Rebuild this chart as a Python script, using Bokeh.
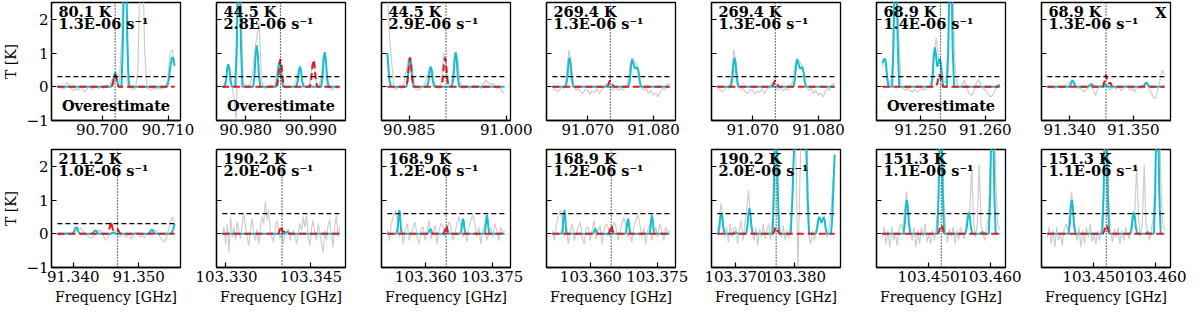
import numpy as np
from bokeh.plotting import figure
from bokeh.layouts import gridplot
from bokeh.models import Range1d, FixedTicker, PrintfTickFormatter, CustomJSTickFormatter, Label, Span
from bokeh.embed import file_html
from bokeh.resources import INLINE

# ---------------- data (frequencies in MHz, temperatures in K) ----------------
# Panel 1
p1_obs_start, p1_obs_end = 90693.2, 90711.0
p1_obs = [0.0, 0.03, -0.08, -0.05, 0.12, 0.08, -0.05, -0.12, -0.05, -0.1, 0.02, -0.08, -0.15, -0.05,
          0.03, -0.1, -0.03, 0.02, -0.06, 0.0, -0.04, 0.05, 0.02, 0.1, 0.25, 0.35, 0.2, 0.1, 1.5, 4.0,
          3.0, 0.3, -0.05, -0.08, -0.05, 0.5, 3.5, 4.0, 1.0, -0.05, -0.06, -0.1, -0.04, -0.06, -0.03,
          -0.07, -0.05, -0.02, 0.2, 1.0, 1.1, 0.75]
p1_mod_f = [90693.2, 90701.42, 90701.64, 90701.81, 90701.97, 90702.13, 90702.30, 90702.52,
            90702.93, 90703.15, 90703.32, 90703.48, 90703.64, 90703.81, 90704.03,
            90709.85, 90710.1, 90710.35, 90710.6, 90710.8, 90711.0]
p1_mod_t = [0, 0, 0.13, 0.34, 0.42, 0.34, 0.13, 0, 0, 1.35, 3.6, 4.5, 3.6, 1.35, 0,
            0, 0.2, 0.6, 0.88, 0.82, 0.62]
p1_tgt_f = [90693.2, 90701.42, 90701.64, 90701.81, 90701.97, 90702.13, 90702.30, 90702.52, 90711.0]
p1_tgt_t = [0, 0, 0.11, 0.29, 0.36, 0.29, 0.11, 0, 0]
p1_rest, p1_lim = 90701.97, 0.3
p1_ticks = [90.700, 90.710]

# Panel 2
p2_obs_start, p2_obs_end = 90976.40, 90994.42
p2_obs = [0.0, 0.05, 0.45, 0.6, 0.1, -0.3, -1.0, 3.5, 2.8, 0.1, 0.05, 0.0, 0.1, 0.3, 1.0, 1.5, 1.9,
          0.2, 0.0, -0.05, 0.02, 0.05, 0.0, 0.1, 0.55, 0.8, 0.4, 0.0, -0.03, 0.02, -0.02, 0.05, 0.15,
          0.5, 0.5, 0.1, 0.0, -0.03, 0.1, 0.6, 0.6, 0.1, -0.02, 0.3, 0.95, 0.8, 0.15, -0.05, -0.1, 0.0,
          -0.05, 0.0]
p2_mod_f = [90976.40,
            90976.76, 90976.98, 90977.15, 90977.31, 90977.47, 90977.64, 90977.86,
            90978.38, 90978.60, 90978.77, 90978.93, 90979.09, 90979.26, 90979.48,
            90981.13, 90981.35, 90981.52, 90981.68, 90981.84, 90982.01, 90982.23,
            90984.63, 90984.85, 90985.02, 90985.18, 90985.34, 90985.51, 90985.73,
            90987.77, 90987.99, 90988.16, 90988.32, 90988.48, 90988.65, 90988.87,
            90991.58, 90991.80, 90991.97, 90992.13, 90992.29, 90992.46, 90992.68,
            90994.42]
p2_mod_t = [0,
            0, 0.2, 0.54, 0.67, 0.54, 0.2, 0,
            0, 1.2, 3.2, 4.0, 3.2, 1.2, 0,
            0, 0.37, 0.98, 1.23, 0.98, 0.37, 0,
            0, 0.23, 0.6, 0.75, 0.6, 0.23, 0,
            0, 0.18, 0.48, 0.6, 0.48, 0.18, 0,
            0, 0.31, 0.82, 1.03, 0.82, 0.31, 0,
            0]
p2_tgt_f = [90976.40, 90984.78, 90985.00, 90985.17, 90985.33, 90985.49, 90985.66, 90985.88,
            90989.86, 90990.08, 90990.25, 90990.41, 90990.57, 90990.74, 90990.96, 90994.42]
p2_tgt_t = [0, 0, 0.25, 0.66, 0.82, 0.66, 0.25, 0, 0, 0.24, 0.64, 0.8, 0.64, 0.24, 0, 0]
p2_rest, p2_lim = 90985.33, 0.3
p2_ticks = [90.980, 90.990]

# Panel 3
p3_obs_start, p3_obs_end = 90981.60, 90999.74
p3_obs = [3.0, 1.4, 0.6, -0.05, -0.08, 0.0, -0.05, 0.1, 0.45, 0.85, 0.85, 0.3, -0.05, -0.1, -0.05,
          0.0, 0.1, 0.35, 0.55, 0.55, 0.15, 0.0, -0.05, 0.15, 1.0, 0.7, 0.1, 0.0, 0.4, 1.0, 0.85, 0.15,
          -0.05, -0.03, 0.05, -0.05, 0.0, 0.05, -0.03, 0.02, -0.05, 0.1, 0.2, 0.12, 0.05, 0.1, 0.02,
          -0.05, -0.02, -0.15, -0.2]
p3_mod_f = [90981.60, 90981.75, 90981.92, 90982.15,
            90984.55, 90984.77, 90984.94, 90985.10, 90985.26, 90985.43, 90985.65,
            90987.75, 90987.97, 90988.14, 90988.30, 90988.46, 90988.63, 90988.85,
            90991.61, 90991.83, 90992.00, 90992.16, 90992.32, 90992.49, 90992.71,
            90999.74]
p3_mod_t = [1.0, 0.6, 0.2, 0,
            0, 0.26, 0.69, 0.86, 0.69, 0.26, 0,
            0, 0.18, 0.48, 0.6, 0.48, 0.18, 0,
            0, 0.31, 0.82, 1.03, 0.82, 0.31, 0,
            0]
p3_tgt_f = [90981.60, 90984.55, 90984.77, 90984.94, 90985.10, 90985.26, 90985.43, 90985.65,
            90989.97, 90990.19, 90990.36, 90990.52, 90990.68, 90990.85, 90991.07, 90999.74]
p3_tgt_t = [0, 0, 0.26, 0.69, 0.86, 0.69, 0.26, 0, 0, 0.26, 0.69, 0.86, 0.69, 0.26, 0, 0]
p3_rest, p3_lim = 90990.67, 0.3
p3_ticks = [90.985, 91.000]

# Panel 4 (also panel 5)
p4_obs_start, p4_obs_end = 91064.62, 91082.46
p4_obs = [-0.1, -0.05, -0.15, -0.1, 0.0, -0.05, 0.3, 1.1, 0.7, 0.05, -0.1, -0.05, -0.15, -0.2, -0.08,
          -0.1, -0.22, -0.12, -0.18, -0.05, -0.2, -0.1, 0.0, 0.1, 0.05, -0.05, -0.1, 0.0, -0.12, -0.05,
          -0.1, -0.02, 0.1, 0.6, 0.85, 0.75, 0.65, 0.35, 0.0, -0.1, -0.05, -0.2, -0.1, -0.25, -0.18,
          -0.3, -0.15, -0.05, -0.1, 0.1, 0.05]
p4_mod_f = [91064.62, 91066.68, 91066.90, 91067.07, 91067.23, 91067.39, 91067.56, 91067.78,
            91076.22, 91076.44, 91076.61, 91076.77, 91076.95, 91077.15, 91077.38, 91077.54, 91077.72,
            91077.88, 91078.10, 91082.46]
p4_mod_t = [0, 0, 0.26, 0.69, 0.86, 0.69, 0.26, 0,
            0, 0.25, 0.66, 0.81, 0.7, 0.55, 0.55, 0.59, 0.45, 0.18, 0, 0]
p4_tgt_f = [91064.62, 91072.89, 91073.11, 91073.28, 91073.44, 91073.60, 91073.77, 91073.99, 91082.46]
p4_tgt_t = [0, 0, 0.06, 0.15, 0.19, 0.15, 0.06, 0, 0]
p4_rest, p4_lim = 91073.44, 0.3
p4_ticks = [91.070, 91.080]

# Panel 6
p6_obs_start, p6_obs_end = 91244.10, 91262.21
p6_obs = [0.6, 0.85, 0.4, 0.05, 0.3, 2.5, 4.0, 1.5, 0.0, -0.05, -0.1, -0.05, -0.12, -0.15, -0.08, -0.15,
          -0.1, -0.05, -0.1, -0.02, 0.0, 0.2, 1.0, 1.45, 0.8, 0.75, 0.2, 0.1, 1.2, 3.5, 3.0, 0.6, 0.05,
          0.0, 0.05, 0.2, -0.05, -0.2, -0.25, -0.15, 0.1, 0.22, 0.05, -0.05, -0.1, -0.2, -0.3, -0.25,
          -0.1, 0.0, 0.05]
p6_mod_f = [91244.10, 91244.30, 91244.51, 91244.68, 91244.85, 91245.05,
            91245.60, 91245.82, 91245.99, 91246.15, 91246.31, 91246.48, 91246.70,
            91251.66, 91251.88, 91252.05, 91252.21, 91252.37, 91252.58, 91252.80, 91252.97, 91253.13,
            91253.30, 91253.52,
            91254.07, 91254.29, 91254.46, 91254.62, 91254.78, 91254.95, 91255.17,
            91261.80, 91262.21]
p6_mod_t = [0.7, 0.8, 0.84, 0.65, 0.25, 0,
            0, 1.2, 3.2, 4.0, 3.2, 1.2, 0,
            0, 0.35, 0.94, 1.17, 0.95, 0.6, 0.72, 0.84, 0.67, 0.25, 0,
            0, 1.2, 3.2, 4.0, 3.2, 1.2, 0,
            0, 0.07]
p6_tgt_f = [91244.10, 91252.37, 91252.59, 91252.76, 91252.92, 91253.08, 91253.25, 91253.47, 91262.21]
p6_tgt_t = [0, 0, 0.11, 0.3, 0.37, 0.3, 0.11, 0, 0]
p6_rest, p6_lim = 91253.08, 0.3
p6_ticks = [91.250, 91.260]

# Panel 7
p7_obs_start, p7_obs_end = 91336.48, 91354.92
p7_obs = [0.0, -0.03, 0.02, -0.05, 0.0, 0.03, -0.02, 0.01, 0.05, 0.1, 0.15, 0.12, 0.02, -0.05, -0.02,
          -0.1, -0.15, -0.08, 0.05, 0.1, -0.1, -0.25, -0.05, 0.05, 0.02, 0.08, 0.03, -0.1, -0.05, 0.0,
          -0.08, 0.02, -0.12, -0.05, 0.05, 0.0, -0.1, -0.05, -0.15, 0.0, -0.05, 0.02, 0.05, 0.1, -0.05,
          -0.15, -0.3, -0.35, -0.1, 0.2, 0.5, 0.35]
p7_mod_f = [91336.48,
            91339.90, 91340.12, 91340.29, 91340.45, 91340.61, 91340.78, 91341.00,
            91342.85, 91343.07, 91343.24, 91343.40, 91343.56, 91343.73, 91343.95,
            91345.30, 91345.70, 91346.10,
            91351.48, 91351.70, 91351.87, 91352.03, 91352.19, 91352.36, 91352.58,
            91354.92]
p7_mod_t = [0,
            0, 0.06, 0.15, 0.19, 0.15, 0.06, 0,
            0, 0.02, 0.06, 0.08, 0.06, 0.02, 0,
            0, 0.04, 0,
            0, 0.04, 0.1, 0.13, 0.1, 0.04, 0,
            0]
p7_tgt_f = [91336.48, 91345.20, 91345.45, 91345.70, 91345.95, 91346.20, 91346.37, 91346.65, 91347.00,
            91354.92]
p7_tgt_t = [0, 0, 0.15, 0.36, 0.12, 0.1, 0.13, 0.02, 0, 0]
p7_rest, p7_lim = 91345.70, 0.3
p7_ticks = [91.340, 91.350]

# Panel 8
p8_obs_start, p8_obs_end = 91337.57, 91355.51
p8_obs = [0.0, -0.05, 0.02, -0.03, 0.05, 0.0, -0.02, 0.03, 0.08, 0.15, 0.18, 0.1, 0.02, -0.05, -0.1,
          -0.12, -0.05, 0.02, 0.08, 0.1, -0.05, -0.2, -0.1, 0.02, 0.05, 0.1, 0.0, -0.08, -0.05, 0.02,
          -0.1, 0.0, -0.15, -0.05, 0.05, 0.0, -0.1, -0.05, -0.12, 0.02, -0.03, 0.05, 0.08, 0.1, -0.02,
          -0.12, -0.25, -0.2, 0.05, 0.3, 0.5, 0.35]
p8_mod_f = [91337.57,
            91339.90, 91340.12, 91340.29, 91340.45, 91340.61, 91340.78, 91341.00,
            91342.85, 91343.07, 91343.24, 91343.40, 91343.56, 91343.73, 91343.95,
            91345.75, 91346.15, 91346.55,
            91351.48, 91351.70, 91351.87, 91352.03, 91352.19, 91352.36, 91352.58,
            91354.95, 91355.25, 91355.51]
p8_mod_t = [0,
            0, 0.06, 0.16, 0.2, 0.16, 0.06, 0,
            0, 0.03, 0.08, 0.1, 0.08, 0.03, 0,
            0, 0.03, 0,
            0, 0.04, 0.1, 0.12, 0.1, 0.04, 0,
            0, 0.1, 0.3]
p8_tgt_f = [91337.57, 91345.30, 91345.55, 91345.79, 91346.05, 91346.50, 91346.82, 91347.10, 91347.40,
            91355.51]
p8_tgt_t = [0, 0, 0.17, 0.37, 0.12, 0.08, 0.13, 0.02, 0, 0]
p8_rest, p8_lim = 91346.77, 0.3
p8_ticks = [91.340, 91.350]

# Panel 9
p9_obs_start, p9_obs_end = 103329.48, 103350.02
p9_obs = [0.0, 0.2, -0.3, 0.3, -0.55, 0.5, -0.1, 0.2, -0.2, 0.35, 0.1, -0.15, 0.3, 0.6, 0.2, -0.1,
          -0.35, 0.1, 0.45, 0.0, -0.2, 0.15, -0.3, 0.2, 0.5, 0.3, 0.95, 0.4, 0.75, 0.1, -0.1, -0.25,
          0.15, 0.4, 0.1, -0.15, 0.05, -0.3, 0.1, -0.05, 0.15, -0.2, 0.0, 0.1, -0.1, -0.3, 0.05, 0.3,
          0.1, 0.5, 0.2, 0.55, -0.1, -0.35, 0.15, 0.4, 0.0, -0.2, 0.3, 0.05, -0.3, -0.55, 0.1, -0.2,
          0.25, 0.4, 0.0, -0.4, 0.2, 0.55, -0.1, 0.2]
p9_mod_f = [103329.48, 103340.40, 103340.70, 103340.91, 103341.12, 103341.40, 103350.02]
p9_mod_t = [0, 0, 0.04, 0.07, 0.04, 0, 0]
p9_tgt_f = [103329.48, 103339.30, 103339.55, 103339.81, 103340.05, 103340.33, 103340.60, 103350.02]
p9_tgt_t = [0, 0, 0.12, 0.23, 0.05, 0.06, 0, 0]
p9_rest, p9_lim = 103339.93, 0.6
p9_ticks = [103.330, 103.345]

# Panel 10 (also panel 11)
p10_obs_start, p10_obs_end = 103351.3, 103377.8
p10_obs = [0.1, -0.2, 0.3, 0.5, 0.7, 0.4, -0.1, 0.2, -0.3, 0.1, 0.3, -0.2, 0.0, 0.2, 0.35, -0.1, -0.3,
           0.15, 0.2, -0.2, 0.1, 0.4, -0.15, 0.05, 0.25, -0.3, 0.1, 0.3, 0.2, -0.1, 0.15, 0.35, 0.2,
           -0.2, 0.0, 0.3, 0.5, 0.2, -0.1, 0.1, -0.25, 0.2, 0.4, 0.55, 0.3, -0.1, 0.2, -0.3, 0.1, 0.3,
           -0.2, 0.0, 0.2, -0.1, 0.3, 0.1, -0.2, 0.2, 0.0, 0.1]
p10_mod_f = [103351.3,
             103353.45, 103353.67, 103353.84, 103354.0, 103354.16, 103354.33, 103354.55,
             103360.45, 103360.67, 103360.84, 103361.0, 103361.16, 103361.33, 103361.55,
             103367.85, 103368.07, 103368.24, 103368.4, 103368.56, 103368.73, 103368.95,
             103373.25, 103373.47, 103373.64, 103373.8, 103373.96, 103374.13, 103374.35,
             103377.8]
p10_mod_t = [0,
             0, 0.21, 0.56, 0.7, 0.56, 0.21, 0,
             0, 0.05, 0.12, 0.15, 0.12, 0.05, 0,
             0, 0.14, 0.36, 0.45, 0.36, 0.14, 0,
             0, 0.17, 0.44, 0.55, 0.44, 0.17, 0,
             0]
p10_tgt_f = [103351.3, 103364.05, 103364.27, 103364.44, 103364.6, 103364.76, 103364.93, 103365.15,
             103377.8]
p10_tgt_t = [0, 0, 0.08, 0.2, 0.25, 0.2, 0.08, 0, 0]
p10_rest, p10_lim = 103364.6, 0.6
p10_ticks = [103.360, 103.375]

# Panel 12
p12_obs_start, p12_obs_end = 103366.94, 103386.67
p12_obs = [0.1, 0.4, 0.9, 0.5, -0.1, 0.2, -0.25, 0.3, -0.1, 0.15, 0.2, -0.3, 0.1, 0.4, -0.2, 0.3, 0.7,
           1.3, 0.6, 0.1, -0.2, 0.2, -0.35, 0.15, -0.1, 0.3, -0.15, 0.1, 0.3, -0.2, 0.5, 2.0, 3.5, 1.2,
           0.2, -0.1, 0.25, -0.2, 0.1, -0.15, 0.3, 1.0, 3.5, 2.0, -1.2, 1.5, 3.5, 4.0, 3.0, 0.8, -0.1,
           -0.3, 0.1, -0.2, 0.2, 0.4, 0.5, 0.3, 0.5, 0.3, -0.1, 0.2, 0.6, 1.5, 2.2]
p12_mod_f = [103366.94,
             103367.06, 103367.28, 103367.45, 103367.61, 103367.77, 103367.94, 103368.16,
             103369.6, 103370.0, 103370.4,
             103371.78, 103372.00, 103372.17, 103372.33, 103372.49, 103372.66, 103372.88,
             103376.23, 103376.45, 103376.62, 103376.78, 103376.94, 103377.11, 103377.33,
             103379.28, 103379.55, 103379.83, 103380.28, 103381.00, 103381.50, 103381.94, 103382.15,
             103382.38,
             103383.51, 103383.73, 103383.90, 103384.06, 103384.25, 103384.45, 103384.65, 103384.83,
             103384.99, 103385.16, 103385.38,
             103386.05, 103386.25, 103386.45, 103386.67]
p12_mod_t = [0,
             0, 0.19, 0.5, 0.62, 0.5, 0.19, 0,
             0, 0.05, 0,
             0, 0.23, 0.61, 0.76, 0.61, 0.23, 0,
             0, 1.2, 3.2, 4.0, 3.2, 1.2, 0,
             0, 1.0, 2.5, 5.0, 4.0, 5.0, 2.5, 1.0, 0,
             0, 0.15, 0.4, 0.5, 0.42, 0.33, 0.42, 0.5, 0.4, 0.15, 0,
             0, 0.4, 1.3, 2.35]
p12_tgt_f = [103366.94, 103376.28, 103376.50, 103376.67, 103376.83, 103376.99, 103377.16, 103377.38,
             103386.67]
p12_tgt_t = [0, 0, 0.06, 0.16, 0.2, 0.16, 0.06, 0, 0]
p12_rest, p12_lim = 103376.83, 0.6
p12_ticks = [103.370, 103.380]

# Panel 13 (also panel 14)
p13_obs_start, p13_obs_end = 103442.54, 103461.46
p13_obs = [-0.1, 0.2, -0.3, 0.1, -0.4, 0.2, -0.2, 0.0, -0.35, 0.15, 0.3, 0.1, 0.7, 1.25, 0.6, 0.1, -0.2,
           0.2, -0.4, 0.1, -0.3, 0.2, -0.1, 0.3, -0.25, 0.0, -0.3, 0.1, -0.2, 0.2, 1.0, 3.0, 3.5, 1.0,
           0.1, -0.25, 0.15, -0.1, 0.2, -0.3, 0.1, -0.2, 0.2, 0.0, -0.15, 0.3, 0.6, 0.7, 2.0, 0.4, -0.1,
           0.3, 2.05, 0.3, 0.0, -0.2, 0.2, 0.5, 2.0, 3.5, 4.0, 1.5, 0.3, 0.1]
p13_mod_f = [103442.54,
             103445.94, 103446.16, 103446.33, 103446.49, 103446.65, 103446.82, 103447.04,
             103451.40, 103451.62, 103451.79, 103451.95, 103452.11, 103452.28, 103452.50,
             103455.94, 103456.16, 103456.33, 103456.49, 103456.65, 103456.82, 103457.04,
             103458.3, 103458.7, 103459.1,
             103459.72, 103459.94, 103460.11, 103460.27, 103460.43, 103460.60, 103460.82,
             103461.46]
p13_mod_t = [0,
             0, 0.3, 0.8, 1.0, 0.8, 0.3, 0,
             0, 1.2, 3.2, 4.0, 3.2, 1.2, 0,
             0, 0.19, 0.5, 0.63, 0.5, 0.19, 0,
             0, 0.05, 0,
             0, 1.2, 3.2, 4.0, 3.2, 1.2, 0,
             0]
p13_tgt_f = [103442.54, 103451.50, 103451.72, 103451.89, 103452.05, 103452.21, 103452.38, 103452.60,
             103461.46]
p13_tgt_t = [0, 0, 0.08, 0.21, 0.26, 0.21, 0.08, 0, 0]
p13_rest, p13_lim = 103452.05, 0.6
p13_ticks = [103.450, 103.460]

# annotation texts
row1_tex = ["80.1 K", "44.5 K", "44.5 K", "269.4 K", "269.4 K", "68.9 K", "68.9 K"]
row1_aul = ["1.3E-06", "2.8E-06", "2.9E-06", "1.3E-06", "1.3E-06", "1.4E-06", "1.3E-06"]
row2_tex = ["211.2 K", "190.2 K", "168.9 K", "168.9 K", "190.2 K", "151.3 K", "151.3 K"]
row2_aul = ["1.0E-06", "2.0E-06", "1.2E-06", "1.2E-06", "2.0E-06", "1.1E-06", "1.1E-06"]
row1_flag = ["Overestimate", "Overestimate", "", "", "", "Overestimate", ""]
row1_corner = ["", "", "", "", "", "", "X"]
y_ticks = [-1, 0, 1, 2]

# ---------------- assemble ----------------
def panel(obs_start, obs_end, obs, mod_f, mod_t, tgt_f, tgt_t, rest, lim, ticks):
    return dict(obs_start=obs_start, obs_end=obs_end, obs=obs, mod_f=mod_f, mod_t=mod_t,
                tgt_f=tgt_f, tgt_t=tgt_t, rest=rest, lim=lim, ticks=ticks)

P1 = panel(p1_obs_start, p1_obs_end, p1_obs, p1_mod_f, p1_mod_t, p1_tgt_f, p1_tgt_t, p1_rest, p1_lim, p1_ticks)
P2 = panel(p2_obs_start, p2_obs_end, p2_obs, p2_mod_f, p2_mod_t, p2_tgt_f, p2_tgt_t, p2_rest, p2_lim, p2_ticks)
P3 = panel(p3_obs_start, p3_obs_end, p3_obs, p3_mod_f, p3_mod_t, p3_tgt_f, p3_tgt_t, p3_rest, p3_lim, p3_ticks)
P4 = panel(p4_obs_start, p4_obs_end, p4_obs, p4_mod_f, p4_mod_t, p4_tgt_f, p4_tgt_t, p4_rest, p4_lim, p4_ticks)
P6 = panel(p6_obs_start, p6_obs_end, p6_obs, p6_mod_f, p6_mod_t, p6_tgt_f, p6_tgt_t, p6_rest, p6_lim, p6_ticks)
P7 = panel(p7_obs_start, p7_obs_end, p7_obs, p7_mod_f, p7_mod_t, p7_tgt_f, p7_tgt_t, p7_rest, p7_lim, p7_ticks)
P8 = panel(p8_obs_start, p8_obs_end, p8_obs, p8_mod_f, p8_mod_t, p8_tgt_f, p8_tgt_t, p8_rest, p8_lim, p8_ticks)
P9 = panel(p9_obs_start, p9_obs_end, p9_obs, p9_mod_f, p9_mod_t, p9_tgt_f, p9_tgt_t, p9_rest, p9_lim, p9_ticks)
P10 = panel(p10_obs_start, p10_obs_end, p10_obs, p10_mod_f, p10_mod_t, p10_tgt_f, p10_tgt_t, p10_rest, p10_lim, p10_ticks)
P12 = panel(p12_obs_start, p12_obs_end, p12_obs, p12_mod_f, p12_mod_t, p12_tgt_f, p12_tgt_t, p12_rest, p12_lim, p12_ticks)
P13 = panel(p13_obs_start, p13_obs_end, p13_obs, p13_mod_f, p13_mod_t, p13_tgt_f, p13_tgt_t, p13_rest, p13_lim, p13_ticks)

rows = [[P1, P2, P3, P4, P4, P6, P7], [P8, P9, P10, P10, P12, P13, P13]]

FONT = "DejaVu Serif"
FW, FH = 129, 118
LEFT = [44, 21, 18, 11, 18, 18, 18]
RIGHT = [15, 18, 25, 18, 18, 18, 16]
TOP = [2, 5]
BOTTOM = [24, 41]
TICK_FS, LABEL_FS, ANN_FS = "15px", "14px", "14.5px"
GRAY, CYAN, RED = "#cdcdcd", "#17becf", "#e8191c"


def make(r, c, d, tex, aul, flag, corner):
    x0, x1 = d["obs_start"] / 1000.0, d["obs_end"] / 1000.0
    pad = 0.05 * (x1 - x0)
    xs, xe = x0 - pad, x1 + pad
    p = figure(frame_width=FW, frame_height=FH, x_range=Range1d(xs, xe), y_range=Range1d(-1, 2.5),
               output_backend="svg", toolbar_location=None,
               min_border_left=LEFT[c], min_border_right=RIGHT[c],
               min_border_top=TOP[r], min_border_bottom=BOTTOM[r])
    p.grid.visible = False
    p.outline_line_color = "black"
    p.outline_line_width = 1.3
    p.outline_line_alpha = 1.0

    obs_f = np.linspace(x0, x1, len(d["obs"]))
    p.line(obs_f, d["obs"], line_color=GRAY, line_width=1.2)
    p.line(np.array(d["mod_f"]) / 1000.0, d["mod_t"], line_color=CYAN, line_width=2)
    p.line(np.array(d["tgt_f"]) / 1000.0, d["tgt_t"], line_color=RED, line_width=2, line_dash="7 4")
    p.line([x0, x1], [d["lim"], d["lim"]], line_color="black", line_width=1.2, line_dash="5 3")
    p.add_layout(Span(location=d["rest"] / 1000.0, dimension="height", line_color="black",
                      line_width=1.2, line_dash="1 2"))

    xa, ya = p.xaxis[0], p.yaxis[0]
    xa.ticker = FixedTicker(ticks=d["ticks"])
    xa.formatter = PrintfTickFormatter(format="%.3f")
    ya.ticker = FixedTicker(ticks=y_ticks)
    if c == 0:
        ya.formatter = CustomJSTickFormatter(code="return tick < 0 ? '\u2212' + Math.abs(tick) : String(tick);")
        ya.axis_label = "T [K]"
    else:
        ya.formatter = CustomJSTickFormatter(code="return '';")
    if r == 1:
        xa.axis_label = "Frequency [GHz]"
    for ax in (xa, ya):
        ax.major_tick_in = 5
        ax.major_tick_out = 0
        ax.minor_tick_in = 0
        ax.minor_tick_out = 0
        ax.major_tick_line_color = "black"
        ax.major_tick_line_width = 1.2
        ax.axis_line_color = "black"
        ax.axis_line_width = 1.3
        ax.major_label_text_font = FONT
        ax.major_label_text_font_size = TICK_FS
        ax.major_label_text_color = "black"
        ax.major_label_standoff = 3
        ax.axis_label_text_font = FONT
        ax.axis_label_text_font_size = LABEL_FS
        ax.axis_label_text_font_style = "normal"
        ax.axis_label_text_color = "black"
        ax.axis_label_standoff = 4

    u = FH / 3.5
    def xpx(px):
        return xs + px / FW * (xe - xs)
    kw = dict(text_font=FONT, text_font_style="bold", text_font_size=ANN_FS, text_color="black",
              text_baseline="middle")
    p.add_layout(Label(x=xpx(7), y=2.5 - 8.5 / u, text=tex, text_align="left", **kw))
    p.add_layout(Label(x=xpx(7), y=2.5 - 21 / u, text=aul + " s\u207b\u00b9", text_align="left", **kw))
    if flag:
        p.add_layout(Label(x=xpx(FW / 2), y=-0.55, text=flag, text_align="center", **kw))
    if corner:
        p.add_layout(Label(x=xpx(FW - 4), y=2.5 - 10 / u, text=corner, text_align="right", **kw))
    return p


figs = []
for r, row in enumerate(rows):
    tex = row1_tex if r == 0 else row2_tex
    aul = row1_aul if r == 0 else row2_aul
    frow = []
    for c, d in enumerate(row):
        flag = row1_flag[c] if r == 0 else ""
        corner = row1_corner[c] if r == 0 else ""
        frow.append(make(r, c, d, tex[c], aul[c], flag, corner))
    figs.append(frow)

grid = gridplot(figs, toolbar_location=None)
open("out.html", "w").write(file_html(grid, INLINE))
